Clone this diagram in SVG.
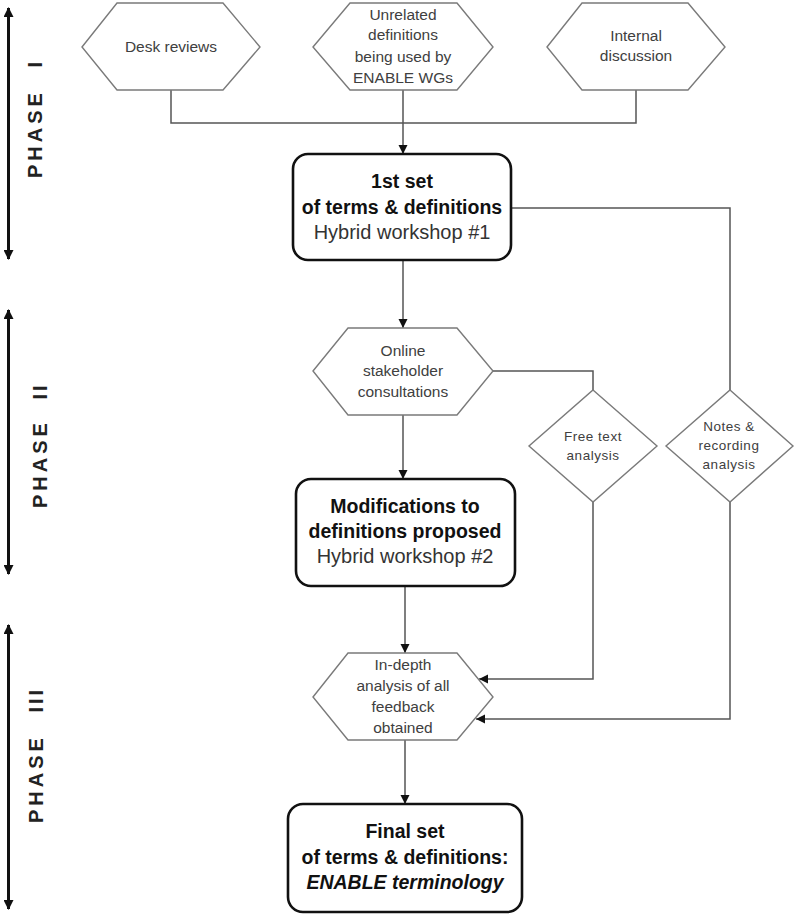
<svg xmlns="http://www.w3.org/2000/svg" width="796" height="919" viewBox="0 0 796 919">
<style>
text{font-family:"Liberation Sans",Arial,sans-serif;text-anchor:middle}
.hex{fill:#fff;stroke:#7a7a7a;stroke-width:1.4}
.dia{fill:#fff;stroke:#7a7a7a;stroke-width:1.4}
.box{fill:#fff;stroke:#111;stroke-width:2.6}
.st{font-size:15.5px;fill:#404040}
.sd{font-size:13.5px;fill:#404040;letter-spacing:0.5px}
.bt{font-size:19.5px;font-weight:bold;fill:#111}
.nt{font-size:20px;fill:#333}
.ph{font-size:20px;font-weight:bold;fill:#222;letter-spacing:4px;text-anchor:start}
.num{letter-spacing:3px}
.con{fill:none;stroke:#555;stroke-width:1.5}
.pa{fill:none;stroke:#111;stroke-width:3}
</style>
<defs>
<marker id="ah" viewBox="0 0 10 10" refX="10" refY="5" markerWidth="9" markerHeight="10" markerUnits="userSpaceOnUse" orient="auto"><path d="M0,0 L10,5 L0,10 z" fill="#111"/></marker>
<marker id="pa" viewBox="0 0 10 10" refX="9" refY="5" markerWidth="12" markerHeight="10" markerUnits="userSpaceOnUse" orient="auto-start-reverse"><path d="M0,0 L10,5 L0,10 z" fill="#111"/></marker>
</defs>

<g id="phases">
<g id="phase1">
<line class="pa" x1="8.5" y1="8" x2="8.5" y2="259" marker-start="url(#pa)" marker-end="url(#pa)"/>
<text class="ph" transform="translate(42,178) rotate(-90)">PHASE <tspan class="num" dx="12">I</tspan></text>
</g>
<g id="phase2">
<line class="pa" x1="8.5" y1="310" x2="8.5" y2="574" marker-start="url(#pa)" marker-end="url(#pa)"/>
<text class="ph" transform="translate(47,508) rotate(-90)">PHASE <tspan class="num" dx="10">II</tspan></text>
</g>
<g id="phase3">
<line class="pa" x1="8.5" y1="625" x2="8.5" y2="909" marker-start="url(#pa)" marker-end="url(#pa)"/>
<text class="ph" transform="translate(43,823) rotate(-90)">PHASE <tspan class="num" dx="12">III</tspan></text>
</g>
</g>

<g id="connectors">
<path class="con" d="M171,90 V123 H636 V90"/>
<path class="con" d="M403,90 V154" marker-end="url(#ah)"/>
<path class="con" d="M403,260 V328" marker-end="url(#ah)"/>
<path class="con" d="M511,208 H730 V390"/>
<path class="con" d="M493,371 H593 V390"/>
<path class="con" d="M403,415 V479" marker-end="url(#ah)"/>
<path class="con" d="M405,586 V653" marker-end="url(#ah)"/>
<path class="con" d="M593,502 V679 H479" marker-end="url(#ah)"/>
<path class="con" d="M730,502 V719 H476" marker-end="url(#ah)"/>
<path class="con" d="M405,740 V804" marker-end="url(#ah)"/>
</g>

<g id="desk-reviews">
<polygon class="hex" points="82,47 117,3 223,3 260,47 223,90 117,90"/>
<text class="st" x="171" y="52">Desk reviews</text>
</g>
<g id="unrelated-definitions">
<polygon class="hex" points="313,47 350,3 457,3 493,47 457,90 350,90"/>
<text class="st" x="403" y="20">Unrelated</text>
<text class="st" x="403" y="40">definitions</text>
<text class="st" x="403" y="62">being used by</text>
<text class="st" x="403" y="83">ENABLE WGs</text>
</g>
<g id="internal-discussion">
<polygon class="hex" points="547,47 582,3 688,3 725,47 688,90 582,90"/>
<text class="st" x="636" y="41">Internal</text>
<text class="st" x="636" y="61">discussion</text>
</g>

<g id="first-set">
<rect class="box" x="293" y="154" width="218" height="106" rx="15"/>
<text class="bt" x="402" y="188">1st set</text>
<text class="bt" x="402" y="214">of terms &amp; definitions</text>
<text class="nt" x="402" y="239">Hybrid workshop #1</text>
</g>

<g id="online-consultations">
<polygon class="hex" points="313,371 348,328 457,328 493,371 457,415 348,415"/>
<text class="st" x="403" y="356">Online</text>
<text class="st" x="403" y="376">stakeholder</text>
<text class="st" x="403" y="397">consultations</text>
</g>

<g id="free-text-analysis">
<polygon class="dia" points="593,390 657,446 593,502 529,446"/>
<text class="sd" x="593" y="441">Free text</text>
<text class="sd" x="593" y="460">analysis</text>
</g>
<g id="notes-recording-analysis">
<polygon class="dia" points="730,390 793,446 730,502 666,446"/>
<text class="sd" x="729" y="431">Notes &amp;</text>
<text class="sd" x="729" y="450">recording</text>
<text class="sd" x="729" y="469">analysis</text>
</g>

<g id="modifications">
<rect class="box" x="296" y="479" width="219" height="107" rx="15"/>
<text class="bt" x="405" y="513">Modifications to</text>
<text class="bt" x="405" y="538">definitions proposed</text>
<text class="nt" x="405" y="563">Hybrid workshop #2</text>
</g>

<g id="in-depth-analysis">
<polygon class="hex" points="313,697 348,653 457,653 493,697 457,740 348,740"/>
<text class="st" x="403" y="670">In-depth</text>
<text class="st" x="403" y="691">analysis of all</text>
<text class="st" x="403" y="712">feedback</text>
<text class="st" x="403" y="733">obtained</text>
</g>

<g id="final-set">
<rect class="box" x="288" y="804" width="234" height="108" rx="15"/>
<text class="bt" x="405" y="838">Final set</text>
<text class="bt" x="405" y="864">of terms &amp; definitions:</text>
<text class="bt" x="405" y="889" font-style="italic">ENABLE terminology</text>
</g>
</svg>
